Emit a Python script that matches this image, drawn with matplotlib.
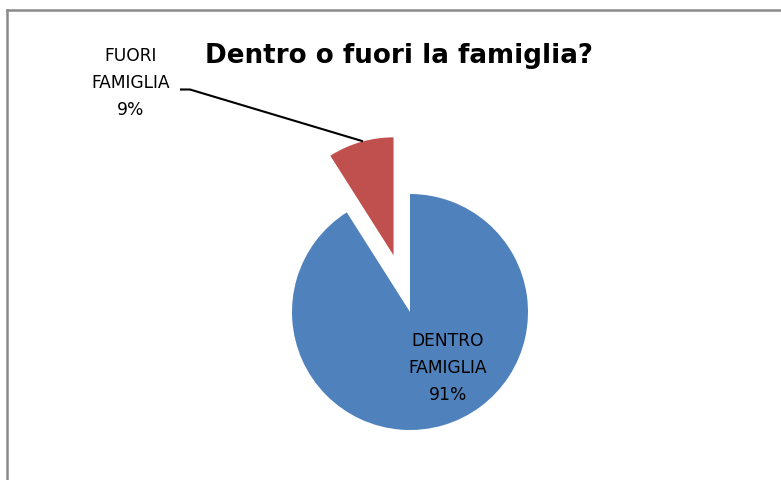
import matplotlib.pyplot as plt
from matplotlib.lines import Line2D

# data
labels = ["DENTRO\nFAMIGLIA", "FUORI\nFAMIGLIA"]
values = [91, 9]
colors = ["#4F81BD", "#C0504D"]
title = "Dentro o fuori la famiglia?"

W, H = 781, 481
fig = plt.figure(figsize=(W / 100, H / 100), dpi=100)
ax = fig.add_axes([0, 0, 1, 1])

# pie in pixel-like data coords (y up); explode is in data units here
R = 118
ax.pie(values, colors=colors, startangle=90, counterclock=False,
       center=(410, H - 313), radius=R, explode=[0, 0.5 * R],
       wedgeprops=dict(linewidth=0))
ax.set_xlim(0, W)
ax.set_ylim(0, H)
ax.set_aspect("equal")
ax.axis("off")

# chart frame (only top and left edges are visible in the crop)
fig.add_artist(Line2D([6.5 / W, 6.5 / W], [0, 1 - 11 / H], color="#8a8a8a", lw=1.8))
fig.add_artist(Line2D([6.5 / W, 1], [1 - 11 / H, 1 - 11 / H], color="#8a8a8a", lw=1.8))

font = ["DejaVu Sans"]
ax.text(399, H - 63, title, ha="center", va="baseline", fontsize=18.8,
        fontweight="bold", family=font)

# data labels
ax.text(448, H - 368, f"{labels[0]}\n{values[0]}%", ha="center", va="center",
        fontsize=12.3, family=font, linespacing=1.62)
ax.text(131, H - 83, f"{labels[1]}\n{values[1]}%", ha="center", va="center",
        fontsize=12.3, family=font, linespacing=1.62)

# leader line for the small slice
ax.plot([181, 190, 362], [H - 90.5, H - 90.5, H - 142], color="black", lw=1.5)

fig.savefig("out.png", dpi=100)
